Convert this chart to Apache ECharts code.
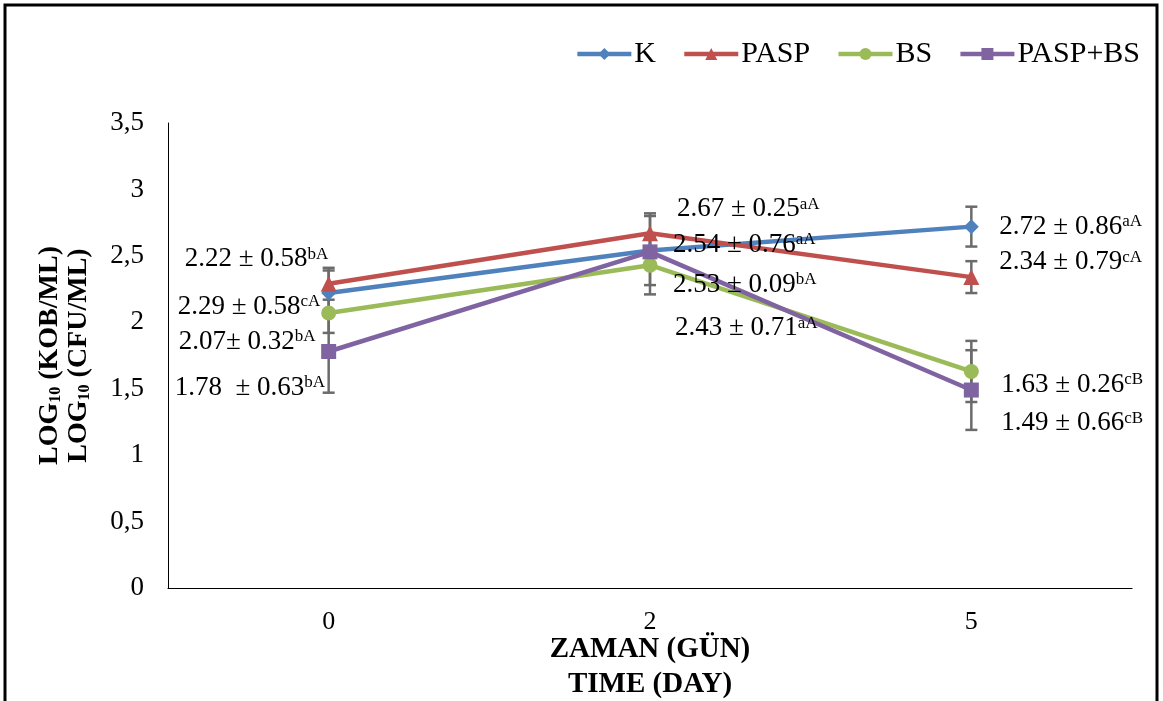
<!DOCTYPE html>
<html><head><meta charset="utf-8">
<script src="https://cdn.jsdelivr.net/npm/echarts@6/dist/echarts.min.js"></script>
<style>html,body{margin:0;padding:0;background:#fff}#c{width:1163px;height:701px}</style>
</head><body><div id="c"></div>
<script>
// ---- data ----
const categories = ['0', '2', '5'];
const seriesNames = ['K', 'PASP', 'BS', 'PASP+BS'];
const kValues = [2.22, 2.54, 2.72];
const paspValues = [2.29, 2.67, 2.34];
const bsValues = [2.07, 2.43, 1.63];
const paspBsValues = [1.78, 2.53, 1.49];
const kErrors = [0.17, 0.26, 0.15];
const paspErrors = [0.12, 0.15, 0.12];
const bsErrors = [0.15, 0.22, 0.23];
const paspBsErrors = [0.31, 0.10, 0.30];
const kNotes = ['2.22 \u00b1 0.58', '2.54 \u00b1 0.76', '2.72 \u00b1 0.86'];
const kLetters = ['bA', 'aA', 'aA'];
const paspNotes = ['2.29 \u00b1 0.58', '2.67 \u00b1 0.25', '2.34 \u00b1 0.79'];
const paspLetters = ['cA', 'aA', 'cA'];
const bsNotes = ['2.07\u00b1 0.32', '2.43 \u00b1 0.71', '1.63 \u00b1 0.26'];
const bsLetters = ['bA', 'aA', 'cB'];
const paspBsNotes = ['1.78  \u00b1 0.63', '2.53 \u00b1 0.09', '1.49 \u00b1 0.66'];
const paspBsLetters = ['bA', 'bA', 'cB'];
const yTickLabels = ['0', '0,5', '1', '1,5', '2', '2,5', '3', '3,5'];

// ---- layout (note placement relative to each point: [dx to text start, dy to text centre]) ----
const noteOffsets = {
  'K': [[-144, -34], [23, -6], [28, 0]],
  'PASP': [[-151, 23], [27, -24], [28, -15]],
  'BS': [[-150, 29], [25, 63], [30, 13]],
  'PASP+BS': [[-154, 36], [23, 33], [30, 33]]
};
const FONT = '"Liberation Serif", "Times New Roman", serif';

function lineSeries(name, values, notes, letters, color, symbol, size) {
  const offs = noteOffsets[name];
  return {
    name: name, type: 'line', z: 3,
    symbol: symbol, symbolSize: size,
    lineStyle: { color: color, width: 4.5 },
    itemStyle: { color: color },
    emphasis: { disabled: true },
    data: values.map((v, i) => ({
      value: v,
      label: { offset: [offs[i][0] - size / 2, offs[i][1]] }
    })),
    label: {
      show: true, position: 'right', distance: 0,
      formatter: p => '{m|' + notes[p.dataIndex] + '}{s|' + letters[p.dataIndex] + '}',
      rich: {
        m: { fontFamily: FONT, fontSize: 27, color: '#000', lineHeight: 27 },
        s: { fontFamily: FONT, fontSize: 17, color: '#000', lineHeight: 17, verticalAlign: 'top' }
      }
    }
  };
}

function errorSeries(values, errs) {
  return {
    type: 'custom', z: 1, silent: true,
    encode: { x: 0, y: [1, 2] },
    data: values.map((v, i) => [i, v - errs[i], v + errs[i]]),
    renderItem: (params, api) => {
      const lo = api.coord([api.value(0), api.value(1)]);
      const hi = api.coord([api.value(0), api.value(2)]);
      const w = 6;
      const style = { stroke: '#6b6b6b', lineWidth: 2.5 };
      return {
        type: 'group', children: [
          { type: 'line', shape: { x1: lo[0], y1: lo[1], x2: hi[0], y2: hi[1] }, style: style },
          { type: 'line', shape: { x1: lo[0] - w, y1: lo[1], x2: lo[0] + w, y2: lo[1] }, style: style },
          { type: 'line', shape: { x1: hi[0] - w, y1: hi[1], x2: hi[0] + w, y2: hi[1] }, style: style }
        ]
      };
    }
  };
}

const chart = echarts.init(document.getElementById('c'), null, { renderer: 'canvas' });
chart.setOption({
  animation: false,
  backgroundColor: '#fff',
  graphic: [{
    type: 'rect', z: 100, silent: true,
    shape: { x: 5, y: 5, width: 1152, height: 760 },
    style: { fill: 'none', stroke: '#000', lineWidth: 3 }
  }],
  grid: { left: 168, right: 31, top: 123, bottom: 113, outerBoundsMode: 'none', containLabel: false },
  legend: {
    data: seriesNames, right: 18, top: 34,
    itemWidth: 54, itemHeight: 15, itemGap: 26,
    lineStyle: { width: 4.5 },
    textStyle: { fontFamily: FONT, fontSize: 30, color: '#000', padding: [0, 0, 0, -2] }
  },
  xAxis: {
    type: 'category', data: categories, boundaryGap: true,
    axisLine: { show: true, lineStyle: { color: '#000', width: 1.2 } },
    axisTick: { show: false },
    axisLabel: { fontFamily: FONT, fontSize: 26, color: '#000', margin: 21 },
    name: 'ZAMAN (G\u00dcN)\nTIME (DAY)',
    nameLocation: 'middle', nameGap: 44, nameMoveOverlap: false,
    nameTextStyle: { fontFamily: FONT, fontSize: 29, fontWeight: 'bold', color: '#000', lineHeight: 35 }
  },
  yAxis: {
    type: 'value', min: 0, max: 3.5, interval: 0.5,
    axisLine: { show: true, lineStyle: { color: '#000', width: 1 } },
    axisTick: { show: false },
    splitLine: { show: false },
    axisLabel: {
      fontFamily: FONT, fontSize: 27, color: '#000', margin: 24,
      formatter: v => yTickLabels[Math.round(v / 0.5)]
    },
    name: '{b|LOG}{sub|10}{b| (KOB/ML)}\n{b|LOG}{sub|10}{b| (CFU/ML)}',
    nameLocation: 'middle', nameRotate: 90, nameGap: 75, nameMoveOverlap: false,
    nameTextStyle: {
      rich: {
        b: { fontFamily: FONT, fontSize: 28, fontWeight: 'bold', color: '#000', lineHeight: 29 },
        sub: { fontFamily: FONT, fontSize: 16, fontWeight: 'bold', color: '#000', lineHeight: 16, verticalAlign: 'bottom' }
      }
    }
  },
  series: [
    errorSeries(kValues, kErrors),
    errorSeries(paspValues, paspErrors),
    errorSeries(bsValues, bsErrors),
    errorSeries(paspBsValues, paspBsErrors),
    lineSeries('K', kValues, kNotes, kLetters, '#4F81BD', 'diamond', 15),
    lineSeries('PASP', paspValues, paspNotes, paspLetters, '#C0504D', 'triangle', 16),
    lineSeries('BS', bsValues, bsNotes, bsLetters, '#9BBB59', 'circle', 15),
    lineSeries('PASP+BS', paspBsValues, paspBsNotes, paspBsLetters, '#8064A2', 'rect', 15)
  ]
});
</script>
</body></html>
